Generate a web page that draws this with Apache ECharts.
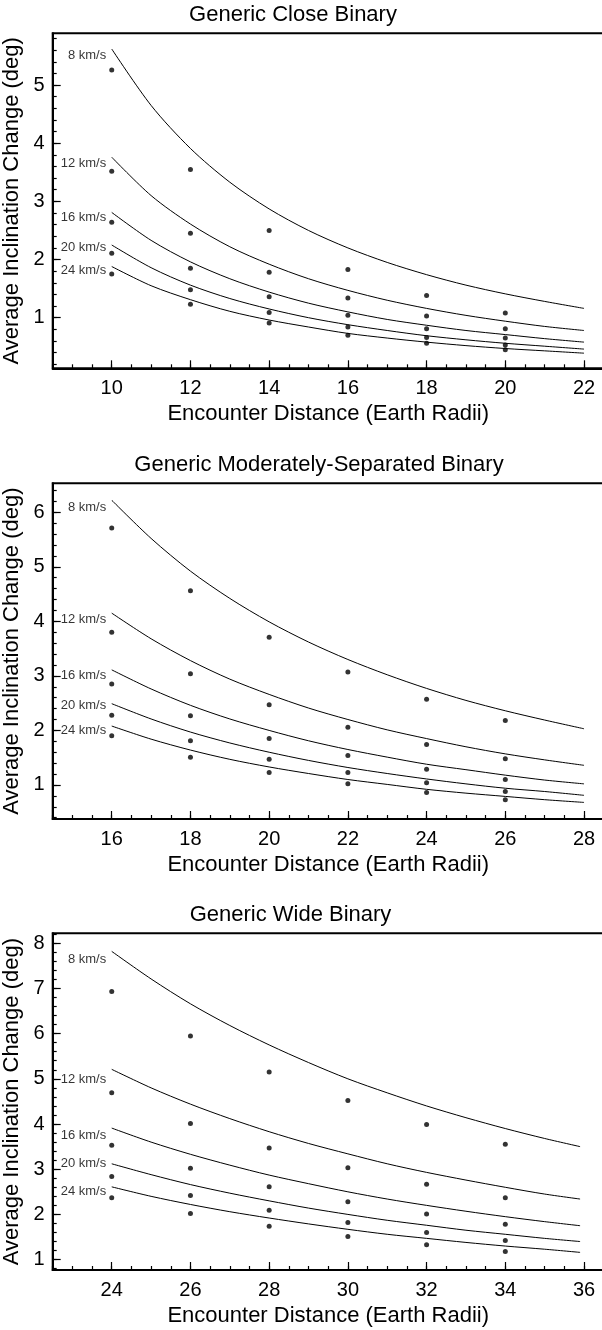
<!DOCTYPE html>
<html><head><meta charset="utf-8">
<script src="https://cdn.jsdelivr.net/npm/echarts@6/dist/echarts.min.js"></script>
<style>html,body{margin:0;padding:0;background:#fff}#c{width:602px;height:1330px}</style>
</head><body><div id="c"></div>
<script>
// ---------- text ----------
const speedLabels = ['8 km/s', '12 km/s', '16 km/s', '20 km/s', '24 km/s'];
const panelTitles = ['Generic Close Binary', 'Generic Moderately-Separated Binary', 'Generic Wide Binary'];
const xName = 'Encounter Distance (Earth Radii)';
const yName = 'Average Inclination Change (deg)';

// ---------- panel 1: close binary ----------
const closeDist = [10, 12, 14, 16, 18, 20];
const closeObs8  = [5.26, 3.55, 2.50, 1.83, 1.38, 1.08];
const closeObs12 = [3.52, 2.45, 1.78, 1.34, 1.03, 0.81];
const closeObs16 = [2.64, 1.85, 1.36, 1.04, 0.81, 0.65];
const closeObs20 = [2.11, 1.48, 1.09, 0.84, 0.66, 0.53];
const closeObs24 = [1.75, 1.23, 0.91, 0.70, 0.56, 0.45];
const closeCurveDist = [10, 11, 12, 13, 14, 15, 16, 17, 18, 19, 20, 21, 22];
const closeFit8  = [5.62, 4.65, 3.91, 3.33, 2.87, 2.50, 2.20, 1.95, 1.74, 1.56, 1.41, 1.28, 1.16];
const closeFit12 = [3.76, 3.10, 2.61, 2.22, 1.92, 1.67, 1.47, 1.30, 1.16, 1.04, 0.94, 0.85, 0.78];
const closeFit16 = [2.81, 2.33, 1.96, 1.67, 1.44, 1.25, 1.10, 0.97, 0.87, 0.78, 0.71, 0.64, 0.58];
const closeFit20 = [2.25, 1.86, 1.56, 1.33, 1.15, 1.00, 0.88, 0.78, 0.69, 0.62, 0.56, 0.51, 0.46];
const closeFit24 = [1.88, 1.55, 1.31, 1.11, 0.96, 0.84, 0.73, 0.65, 0.58, 0.52, 0.47, 0.43, 0.39];
const closeXTicks = [10, 12, 14, 16, 18, 20, 22];
const closeYTicks = [1, 2, 3, 4, 5];

// ---------- panel 2: moderately-separated binary ----------
const modDist = [16, 18, 20, 22, 24, 26];
const modObs8  = [5.71, 4.56, 3.71, 3.07, 2.57, 2.18];
const modObs12 = [3.80, 3.04, 2.47, 2.06, 1.74, 1.48];
const modObs16 = [2.85, 2.27, 1.85, 1.54, 1.29, 1.10];
const modObs20 = [2.28, 1.81, 1.47, 1.23, 1.04, 0.88];
const modObs24 = [1.90, 1.51, 1.23, 1.02, 0.86, 0.73];
const modCurveDist = [16, 17, 18, 19, 20, 21, 22, 23, 24, 25, 26, 27, 28];
const modFit8  = [6.22, 5.52, 4.92, 4.42, 3.99, 3.62, 3.30, 3.02, 2.77, 2.55, 2.36, 2.19, 2.03];
const modFit12 = [4.15, 3.68, 3.28, 2.94, 2.66, 2.41, 2.20, 2.01, 1.85, 1.70, 1.57, 1.46, 1.36];
const modFit16 = [3.11, 2.76, 2.46, 2.21, 2.00, 1.81, 1.65, 1.51, 1.38, 1.28, 1.18, 1.09, 1.02];
const modFit20 = [2.49, 2.21, 1.97, 1.77, 1.60, 1.45, 1.32, 1.21, 1.11, 1.02, 0.94, 0.88, 0.81];
const modFit24 = [2.08, 1.84, 1.64, 1.47, 1.33, 1.21, 1.10, 1.01, 0.92, 0.85, 0.79, 0.73, 0.68];
const modXTicks = [16, 18, 20, 22, 24, 26, 28];
const modYTicks = [1, 2, 3, 4, 5, 6];

// ---------- panel 3: wide binary ----------
const wideDist = [24, 26, 28, 30, 32, 34];
const wideObs8  = [6.93, 5.95, 5.15, 4.52, 3.99, 3.55];
const wideObs12 = [4.69, 4.01, 3.47, 3.03, 2.67, 2.37];
const wideObs16 = [3.53, 3.02, 2.61, 2.28, 2.01, 1.78];
const wideObs20 = [2.84, 2.42, 2.09, 1.82, 1.60, 1.42];
const wideObs24 = [2.37, 2.02, 1.74, 1.51, 1.33, 1.18];
const wideCurveDist = [24, 25, 26, 27, 28, 29, 30, 31, 32, 33, 34, 35, 35.9];
const wideFit8  = [7.82, 7.21, 6.66, 6.18, 5.75, 5.36, 5.00, 4.69, 4.40, 4.14, 3.90, 3.68, 3.50];
const wideFit12 = [5.21, 4.80, 4.44, 4.12, 3.83, 3.57, 3.34, 3.12, 2.93, 2.76, 2.60, 2.45, 2.34];
const wideFit16 = [3.91, 3.60, 3.33, 3.09, 2.87, 2.68, 2.50, 2.34, 2.20, 2.07, 1.95, 1.84, 1.75];
const wideFit20 = [3.12, 2.88, 2.66, 2.47, 2.30, 2.14, 2.00, 1.87, 1.76, 1.65, 1.56, 1.47, 1.40];
const wideFit24 = [2.61, 2.40, 2.22, 2.06, 1.92, 1.79, 1.67, 1.56, 1.47, 1.38, 1.30, 1.23, 1.16];
const wideXTicks = [24, 26, 28, 30, 32, 34, 36];
const wideYTicks = [1, 2, 3, 4, 5, 6, 7, 8];

// ---------- layout / style (not data) ----------
const FONT = '"Liberation Sans", Arial, Helvetica, sans-serif';
const panels = [
  { title: panelTitles[0], titleX: 293, titleTop: 3.5, top: 33.3, height: 335,
    xMin: 8.5, xMax: 22.5, yMin: 0.13, yMax: 5.89,
    xTicks: closeXTicks, yTicks: closeYTicks,
    dist: closeDist, obs: [closeObs8, closeObs12, closeObs16, closeObs20, closeObs24],
    curveDist: closeCurveDist, fits: [closeFit8, closeFit12, closeFit16, closeFit20, closeFit24],
    labelDy: [6, 6, 4.5, 2.5, 3.5] },
  { title: panelTitles[1], titleX: 319, titleTop: 454, top: 483.3, height: 335.7,
    xMin: 14.5, xMax: 28.5, yMin: 0.376, yMax: 6.53,
    xTicks: modXTicks, yTicks: modYTicks,
    dist: modDist, obs: [modObs8, modObs12, modObs16, modObs20, modObs24],
    curveDist: modCurveDist, fits: [modFit8, modFit12, modFit16, modFit20, modFit24],
    labelDy: [7, 6, 6, 2, 4] },
  { title: panelTitles[2], titleX: 290.5, titleTop: 904, top: 933.3, height: 336.7,
    xMin: 22.5, xMax: 36.5, yMin: 0.77, yMax: 8.22,
    xTicks: wideXTicks, yTicks: wideYTicks,
    dist: wideDist, obs: [wideObs8, wideObs12, wideObs16, wideObs20, wideObs24],
    curveDist: wideCurveDist, fits: [wideFit8, wideFit12, wideFit16, wideFit20, wideFit24],
    labelDy: [8, 10.5, 7, 0, 4.5] }
];

function steps(lo, hi, step) {
  const out = [];
  const n0 = Math.ceil(lo / step - 1e-9), n1 = Math.floor(hi / step + 1e-9);
  for (let n = n0; n <= n1; n++) out.push(Math.round(n * step * 1000) / 1000);
  return out;
}

const option = { animation: false, backgroundColor: '#fff', title: [], grid: [], xAxis: [], yAxis: [], series: [] };

panels.forEach((p, i) => {
  option.title.push({
    text: p.title, left: p.titleX, top: p.titleTop, textAlign: 'center', padding: 0,
    textStyle: { fontSize: 22, fontWeight: 'normal', color: '#000', fontFamily: FONT }
  });
  option.grid.push({
    left: 52.7, width: 551, top: p.top, height: p.height, containLabel: false,
    outerBoundsMode: 'none',
    show: true, borderColor: '#000', borderWidth: 2, backgroundColor: 'transparent'
  });
  option.xAxis.push({
    gridIndex: i, type: 'value', position: 'bottom', min: p.xMin, max: p.xMax,
    axisLine: { lineStyle: { color: '#000', width: 2 } },
    axisTick: { inside: true, length: 8, customValues: p.xTicks, lineStyle: { color: '#000', width: 1.2 } },
    axisLabel: { customValues: p.xTicks, fontSize: 20, color: '#000', margin: 10, fontFamily: FONT },
    splitLine: { show: false },
    name: xName, nameLocation: 'middle', nameGap: 35,
    nameTextStyle: { fontSize: 22, color: '#000', fontFamily: FONT }
  });
  option.xAxis.push({
    gridIndex: i, type: 'value', position: 'bottom', min: p.xMin, max: p.xMax, interval: 0.5,
    axisLine: { show: false },
    axisTick: { inside: true, length: 4, lineStyle: { color: '#000', width: 1.2 } },
    axisLabel: { show: false }, splitLine: { show: false }
  });
  option.yAxis.push({
    gridIndex: i, type: 'value', position: 'left', min: p.yMin, max: p.yMax,
    axisLine: { show: true, lineStyle: { color: '#000', width: 2 } },
    axisTick: { show: true, inside: true, length: 8, customValues: p.yTicks, lineStyle: { color: '#000', width: 1.2 } },
    axisLabel: { customValues: p.yTicks, fontSize: 20, color: '#000', margin: 8, fontFamily: FONT },
    splitLine: { show: false },
    name: yName, nameLocation: 'middle', nameGap: 23,
    nameTextStyle: { fontSize: 22, color: '#000', fontFamily: FONT }
  });
  option.yAxis.push({
    gridIndex: i, type: 'value', position: 'left', min: p.yMin, max: p.yMax,
    axisLine: { show: false },
    axisTick: { show: true, inside: true, length: 4, customValues: steps(p.yMin, p.yMax, 0.2),
      lineStyle: { color: '#000', width: 1.2 } },
    axisLabel: { show: false }, splitLine: { show: false }
  });
  const xi = 2 * i, yi = 2 * i;
  p.fits.forEach((fit) => {
    option.series.push({
      type: 'line', xAxisIndex: xi, yAxisIndex: yi, smooth: 0.3, showSymbol: false, symbol: 'none',
      lineStyle: { color: '#000', width: 1 }, silent: true,
      data: p.curveDist.map((x, k) => [x, fit[k]])
    });
  });
  const pts = [];
  p.obs.forEach((arr) => arr.forEach((v, k) => pts.push([p.dist[k], v])));
  option.series.push({
    type: 'scatter', xAxisIndex: xi, yAxisIndex: yi, symbol: 'circle', symbolSize: 5,
    itemStyle: { color: '#000' }, data: pts, silent: true
  });
  option.series.push({
    type: 'scatter', xAxisIndex: xi, yAxisIndex: yi, symbolSize: 1,
    itemStyle: { color: 'rgba(0,0,0,0)' }, silent: true,
    data: p.fits.map((fit, s) => ({
      value: [p.curveDist[0], fit[0]],
      label: { show: true, formatter: speedLabels[s], position: 'left', distance: 5,
        offset: [0, p.labelDy[s]], fontSize: 13, color: '#000', fontFamily: FONT }
    }))
  });
});

const chart = echarts.init(document.getElementById('c'), null, { renderer: 'canvas', width: 602, height: 1330 });
chart.setOption(option);
</script>
</body></html>
